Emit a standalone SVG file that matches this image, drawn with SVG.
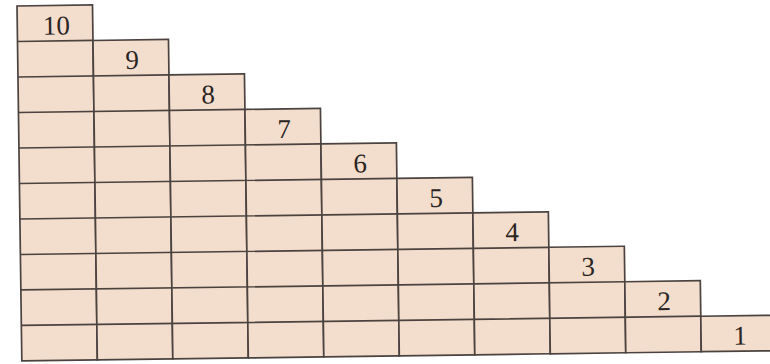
<svg xmlns="http://www.w3.org/2000/svg" width="770" height="364" viewBox="0 0 770 364">
<style>
.c{fill:#f3ddcc;stroke:#4a4340;stroke-width:1.7}
.l{fill:none;stroke:#4a4340;stroke-width:1.7}
.t{font-family:"Liberation Serif","Times New Roman",serif;font-size:27px;fill:#2a2523;text-anchor:middle}
</style>
<rect width="770" height="364" fill="#ffffff"/>
<g transform="rotate(-0.78 17 6)">
<g id="col10"><rect class="c" x="17" y="6" width="75.5" height="355"/><text class="t" x="56" y="35">10</text></g>
<g id="col9"><rect class="c" x="92.5" y="41.5" width="75.5" height="319.5"/><text class="t" x="131.5" y="70.5">9</text></g>
<g id="col8"><rect class="c" x="168" y="77" width="75.5" height="284"/><text class="t" x="207" y="106">8</text></g>
<g id="col7"><rect class="c" x="243.5" y="112.5" width="75.5" height="248.5"/><text class="t" x="282.5" y="141.5">7</text></g>
<g id="col6"><rect class="c" x="319" y="148" width="75.5" height="213"/><text class="t" x="358" y="177">6</text></g>
<g id="col5"><rect class="c" x="394.5" y="183.5" width="75.5" height="177.5"/><text class="t" x="433.5" y="212.5">5</text></g>
<g id="col4"><rect class="c" x="470" y="219" width="75.5" height="142"/><text class="t" x="509" y="248">4</text></g>
<g id="col3"><rect class="c" x="545.5" y="254.5" width="75.5" height="106.5"/><text class="t" x="584.5" y="283.5">3</text></g>
<g id="col2"><rect class="c" x="621" y="290" width="75.5" height="71"/><text class="t" x="660" y="319">2</text></g>
<g id="col1"><rect class="c" x="696.5" y="325.5" width="75.5" height="35.5"/><text class="t" x="735.5" y="354.5">1</text></g>
<g id="rows">
<path class="l" d="M17 41.5H92.5M17 77H168M17 112.5H243.5M17 148H319M17 183.5H394.5M17 219H470M17 254.5H545.5M17 290H621M17 325.5H696.5"/>
</g>
</g>
</svg>
